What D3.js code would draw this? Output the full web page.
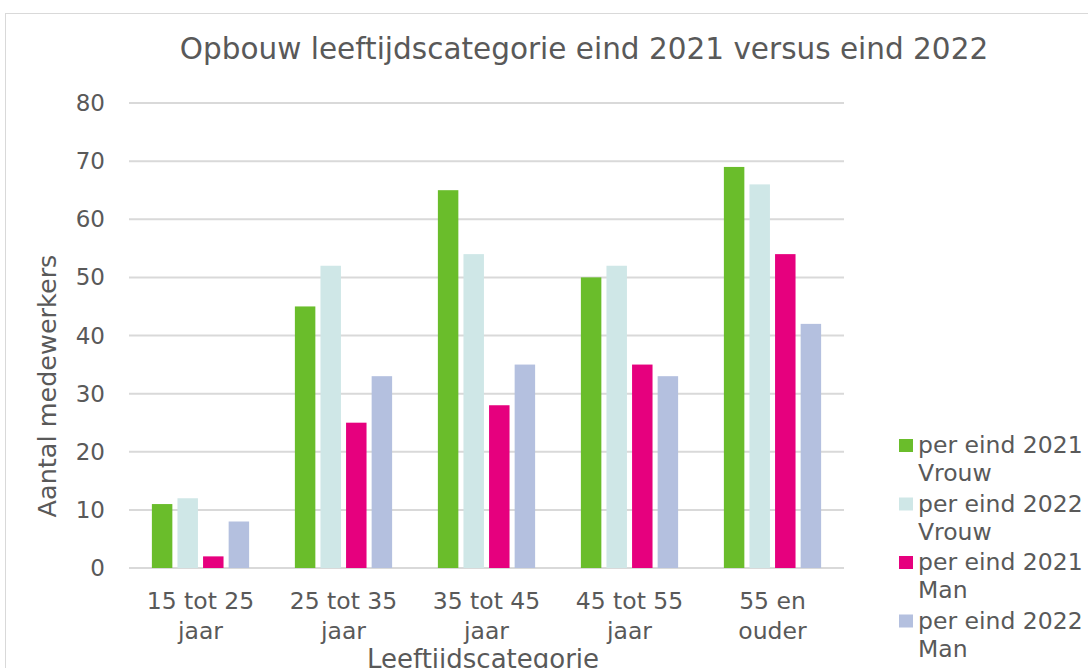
<!DOCTYPE html>
<html>
<head>
<meta charset="utf-8">
<script src="https://cdn.jsdelivr.net/npm/d3@7"></script>
<style>
  body { margin: 0; background: #fff; }
  svg { display: block; font-family: "DejaVu Sans", Verdana, sans-serif; }
</style>
</head>
<body>
<div id="chart"></div>
<script>
// categories and series
const categories = [['15 tot 25', 'jaar'], ['25 tot 35', 'jaar'], ['35 tot 45', 'jaar'], ['45 tot 55', 'jaar'], ['55 en', 'ouder']]
const seriesNames = [['per eind 2021', 'Vrouw'], ['per eind 2022', 'Vrouw'], ['per eind 2021', 'Man'], ['per eind 2022', 'Man']]
const vrouw2021 = [11, 45, 65, 50, 69]
const vrouw2022 = [12, 52, 54, 52, 66]
const man2021 = [2, 25, 28, 35, 54]
const man2022 = [8, 33, 35, 33, 42]
const yTicks = [0, 10, 20, 30, 40, 50, 60, 70, 80]
const colors = ['#6abd2b', '#cfe7e7', '#e6007e', '#b4c0df']

const series = [vrouw2021, vrouw2022, man2021, man2022]
const width = 1088, height = 668
const textColor = '#595959'

const svg = d3.select('#chart').append('svg').attr('width', width).attr('height', height)

// outer chart frame
svg.append('rect')
	.attr('x', 5.5).attr('y', 13.5)
	.attr('width', 1200).attr('height', 800)
	.attr('fill', 'none').attr('stroke', '#d9d9d9').attr('stroke-width', 1)

const plot = { left: 129, right: 844, top: 103, bottom: 568 }

const x0 = d3.scaleBand()
	.domain(d3.range(categories.length))
	.range([plot.left, plot.right])
	.paddingInner(0.32)
	.paddingOuter(0.16)

const x1 = d3.scaleBand()
	.domain(d3.range(series.length))
	.range([0, x0.bandwidth()])
	.paddingInner(0.2)

const y = d3.scaleLinear().domain([0, 80]).range([plot.bottom, plot.top])

// gridlines
svg.append('g')
	.selectAll('line')
	.data(yTicks)
	.join('line')
	.attr('x1', plot.left).attr('x2', plot.right)
	.attr('y1', d => y(d)).attr('y2', d => y(d))
	.attr('stroke', '#d9d9d9').attr('stroke-width', 2)

// y tick labels
svg.append('g')
	.selectAll('text')
	.data(yTicks)
	.join('text')
	.attr('x', 105).attr('y', d => y(d))
	.attr('dy', '0.35em')
	.attr('text-anchor', 'end')
	.attr('font-size', 23)
	.attr('fill', textColor)
	.text(d => d)

// bars
const groups = svg.append('g')
	.selectAll('g')
	.data(categories.map((c, i) => i))
	.join('g')
	.attr('transform', i => `translate(${x0(i)},0)`)

groups.selectAll('rect')
	.data(i => series.map((s, j) => ({ j, v: s[i] })))
	.join('rect')
	.attr('x', d => x1(d.j))
	.attr('width', x1.bandwidth())
	.attr('y', d => y(d.v))
	.attr('height', d => y(0) - y(d.v))
	.attr('fill', d => colors[d.j])

// category labels
const catLabels = svg.append('g')
	.selectAll('text')
	.data(categories)
	.join('text')
	.attr('text-anchor', 'middle')
	.attr('font-size', 23.5)
	.attr('fill', textColor)
	.attr('transform', (d, i) => `translate(${x0(i) + x0.bandwidth() / 2},609)`)
catLabels.selectAll('tspan')
	.data(d => d)
	.join('tspan')
	.attr('x', 0)
	.attr('dy', (d, k) => k === 0 ? 0 : 30)
	.text(d => d)

// title
svg.append('text')
	.attr('x', 584).attr('y', 59)
	.attr('text-anchor', 'middle')
	.attr('font-size', 29.5)
	.attr('fill', textColor)
	.text('Opbouw leeftijdscategorie eind 2021 versus eind 2022')

// axis titles
svg.append('text')
	.attr('transform', 'translate(56,386) rotate(-90)')
	.attr('text-anchor', 'middle')
	.attr('font-size', 25.5)
	.attr('fill', textColor)
	.text('Aantal medewerkers')

svg.append('text')
	.attr('x', 483).attr('y', 668)
	.attr('text-anchor', 'middle')
	.attr('font-size', 26)
	.attr('fill', textColor)
	.text('Leeftijdscategorie')

// legend
const legend = svg.append('g')
	.selectAll('g')
	.data(seriesNames)
	.join('g')
	.attr('transform', (d, i) => `translate(899,${445 + i * 58.5})`)

legend.append('rect')
	.attr('x', 0).attr('y', -6)
	.attr('width', 14).attr('height', 13)
	.attr('fill', (d, i) => colors[i])

const legText = legend.append('text')
	.attr('font-size', 23.5)
	.attr('fill', textColor)
legText.selectAll('tspan')
	.data(d => d)
	.join('tspan')
	.attr('x', 19)
	.attr('y', (d, k) => k * 28)
	.attr('dy', '0.35em')
	.text(d => d)
</script>
</body>
</html>
